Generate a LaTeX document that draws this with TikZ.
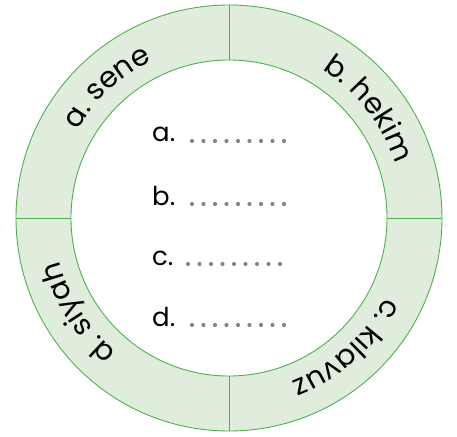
\documentclass[tikz,border=0pt]{standalone}
\usepackage{fontspec}
\setmainfont{Poppins}
\usetikzlibrary{decorations.text}
\definecolor{halka}{HTML}{E1EDDC}
\definecolor{cizgi}{HTML}{4DB04F}
\definecolor{nokta}{HTML}{858585}

\begin{document}
\begin{tikzpicture}[x=1pt,y=1pt,
    harf/.style={font=\fontsize{26}{30}\selectfont,anchor=base west,inner sep=0pt},
    halkayazi/.style={decorate,decoration={text along path,text align=center,
        text={|\fontsize{29}{32}\selectfont|#1}}}]
    \useasboundingbox (-229,-218) rectangle (228,218);

    % Halka
    \fill[halka,even odd rule] (0,0) circle (213pt) (0,0) circle (158pt);
    \draw[cizgi,line width=0.9pt] (0,0) circle (213pt) (0,0) circle (158pt);
    \draw[cizgi,line width=0.9pt]
        (0,158) -- (0,213) (0,-158) -- (0,-213)
        (158,0) -- (213,0) (-158,0) -- (-213,0);

    % Halkadaki kelimeler
    \path[halkayazi={a. sene}] (193:175pt) arc (193:73:175pt);
    \path[halkayazi={b. hekim}] (98:175pt) arc (98:-22:175pt);
    \path[halkayazi={c. kılavuz}] (12:175pt) arc (12:-108:175pt);
    \path[halkayazi={d. siyah}] (-88:175pt) arc (-88:-208:175pt);

    % Harfler
    \node[harf] (la) at (-77,76) {a.};
    \node[harf] (lb) at (-77,13) {b.};
    \node[harf] (lc) at (-77,-47) {c.};
    \node[harf] (ld) at (-77,-108) {d.};

    % Noktalar
    \foreach \y/\x in {76/-37,13/-37,-47/-41,-108/-37} {
        \foreach \i in {0,...,8}
            \fill[nokta] (\x+11.5*\i,\y+1) circle (2.1pt);
    }
\end{tikzpicture}
\end{document}
